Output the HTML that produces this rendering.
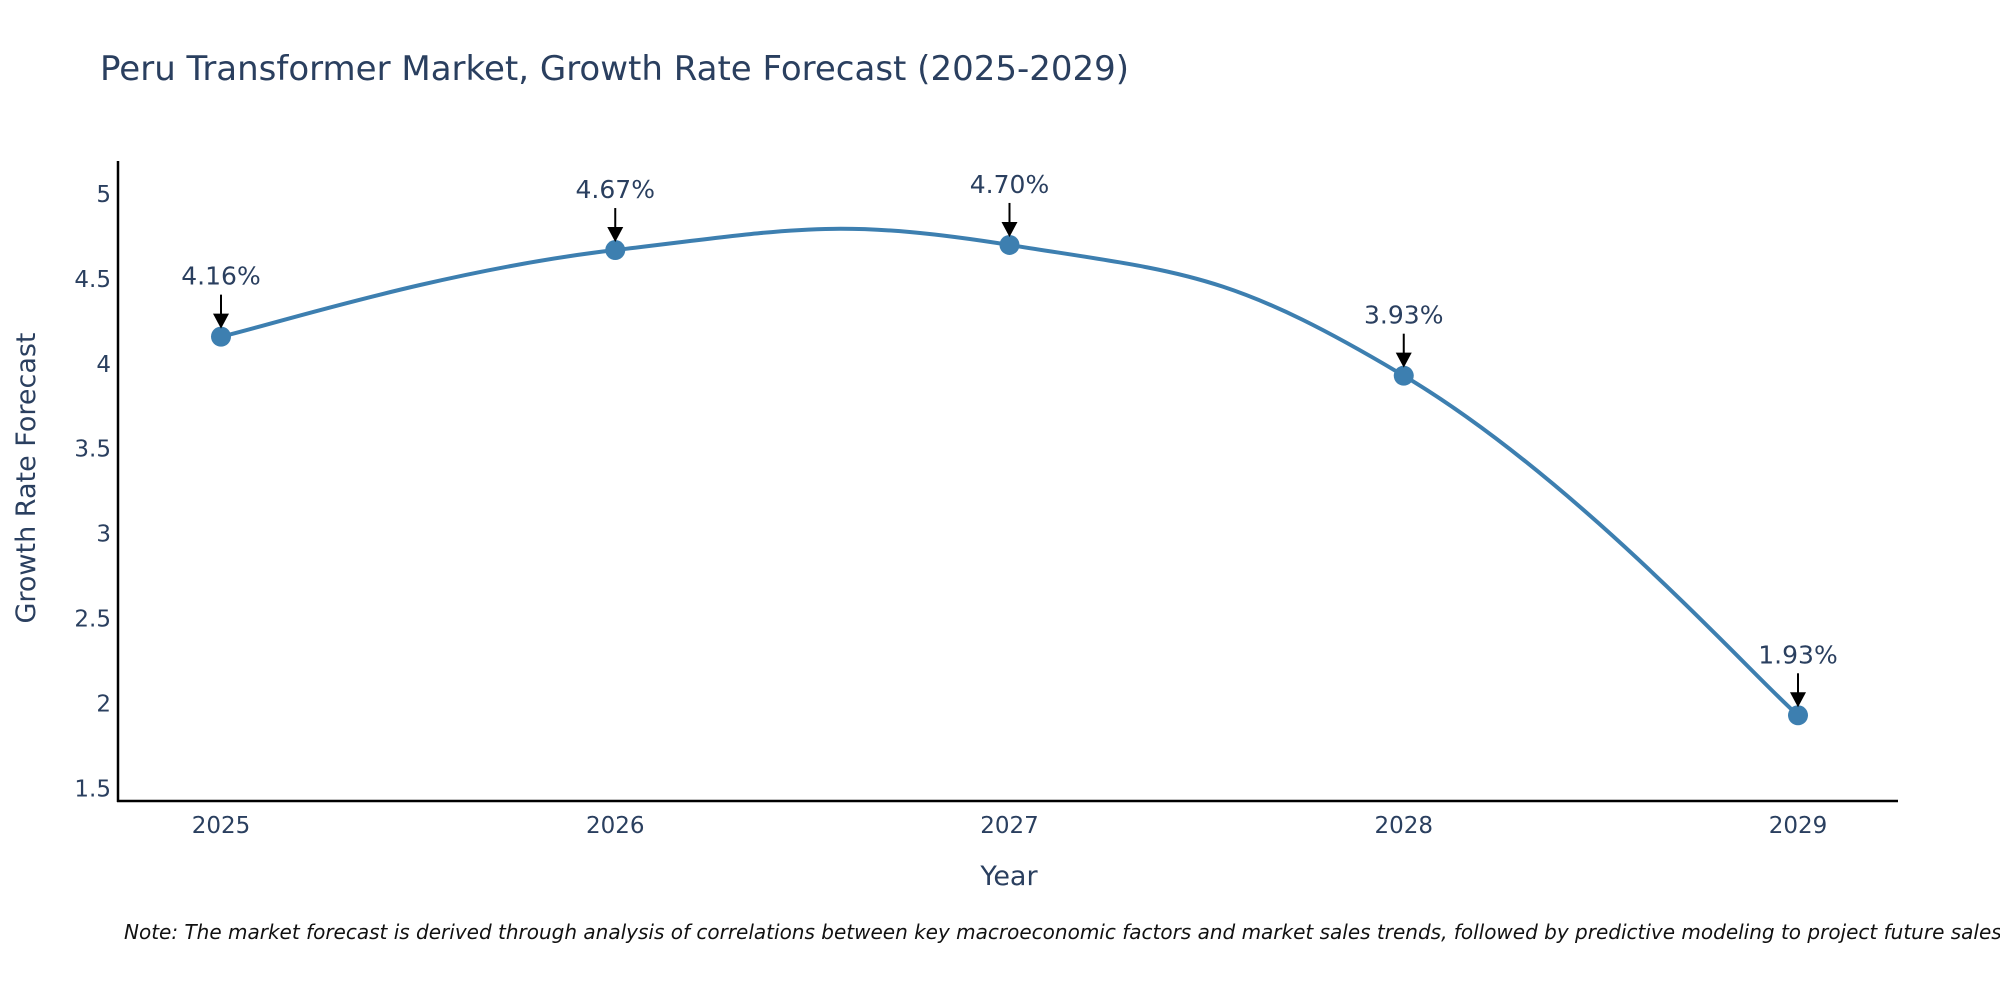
<!DOCTYPE html>
<html><head><meta charset="utf-8"><style>
html,body{margin:0;padding:0;background:#fff;}
svg{display:block;font-family:"DejaVu Sans","Liberation Sans",sans-serif;}
</style></head><body>
<svg id="chart" width="2000" height="1000" viewBox="0 0 2000 1000" xmlns="http://www.w3.org/2000/svg">
<text x="100" y="80" font-size="34" fill="#2a3f5f">Peru Transformer Market, Growth Rate Forecast (2025-2029)</text>
<g id="yticks"></g>
<g id="xticks"></g>
<line x1="118" y1="161" x2="118" y2="802" stroke="#000" stroke-width="2.5"/>
<line x1="117" y1="801" x2="1898" y2="801" stroke="#000" stroke-width="2.5"/>
<path id="line" fill="none" stroke="#3d7fb0" stroke-width="4"/>
<g id="points"></g>
<g id="annots"></g>
<text transform="translate(35,478) rotate(-90)" text-anchor="middle" font-size="27" fill="#2a3f5f">Growth Rate Forecast</text>
<text x="1009" y="885" text-anchor="middle" font-size="27" fill="#2a3f5f">Year</text>
<text x="124" y="939" font-size="20" font-style="italic" fill="#111">Note: The market forecast is derived through analysis of correlations between key macroeconomic factors and market sales trends, followed by predictive modeling to project future sales.</text>
</svg>
<script>
const years = [2025, 2026, 2027, 2028, 2029];
const values = [4.16, 4.67, 4.70, 3.93, 1.93];
const labels = ["4.16%", "4.67%", "4.70%", "3.93%", "1.93%"];
const yTicks = [1.5, 2, 2.5, 3, 3.5, 4, 4.5, 5];
const yTickLabels = ["1.5", "2", "2.5", "3", "3.5", "4", "4.5", "5"];

const NS = "http://www.w3.org/2000/svg";
function xs(v){ return 221 + (v - 2025) * 394.25; }
function ys(v){ return 194 + (5 - v) * 169.8; }
function mk(tag, attrs, parent){ const e=document.createElementNS(NS,tag); for(const k in attrs) e.setAttribute(k,attrs[k]); parent.appendChild(e); return e; }

const yg=document.getElementById('yticks');
yTicks.forEach((t,i)=>{
  const e=mk('text',{x:111,y:ys(t)+8,'text-anchor':'end','font-size':23,fill:'#2a3f5f'},yg);
  
  
  e.textContent=yTickLabels[i];
});
const xg=document.getElementById('xticks');
years.forEach(y=>{
  const e=mk('text',{x:xs(y),y:833,'text-anchor':'middle','font-size':23,fill:'#2a3f5f'},xg);
  
  
  e.textContent=String(y);
});

const P=years.map((y,i)=>[xs(y),ys(values[i])]);
const k=1/4.5;
let d='M'+P[0][0]+','+P[0][1];
for(let i=0;i<P.length-1;i++){
  const p0=P[Math.max(i-1,0)],p1=P[i],p2=P[i+1],p3=P[Math.min(i+2,P.length-1)];
  const c1=[p1[0]+(p2[0]-p0[0])*k/ (i===0?2:1),p1[1]+(p2[1]-p0[1])*k/(i===0?2:1)];
  const e=(i+2>P.length-1)?2:1;
  const c2=[p2[0]-(p3[0]-p1[0])*k/e,p2[1]-(p3[1]-p1[1])*k/e];
  d+=' C'+c1[0]+','+c1[1]+' '+c2[0]+','+c2[1]+' '+p2[0]+','+p2[1];
}
document.getElementById('line').setAttribute('d',d);

const pg=document.getElementById('points'), ag=document.getElementById('annots');
P.forEach((p,i)=>{
  const c=mk('circle',{cx:p[0],cy:p[1],r:10,fill:'#3d7fb0'},pg);
  
  
  const l=mk('line',{x1:p[0],y1:p[1]-42,x2:p[0],y2:p[1]-20,stroke:'#000','stroke-width':2},ag);
  
  
  const h=mk('polygon',{points:`${p[0]-8},${p[1]-23} ${p[0]+8},${p[1]-23} ${p[0]},${p[1]-8}`,fill:'#000'},ag);
  
  
  const t=mk('text',{x:p[0],y:p[1]-52,'text-anchor':'middle','font-size':25,fill:'#2a3f5f'},ag);
  
  
  t.textContent=labels[i];
});
</script>
</body></html>
